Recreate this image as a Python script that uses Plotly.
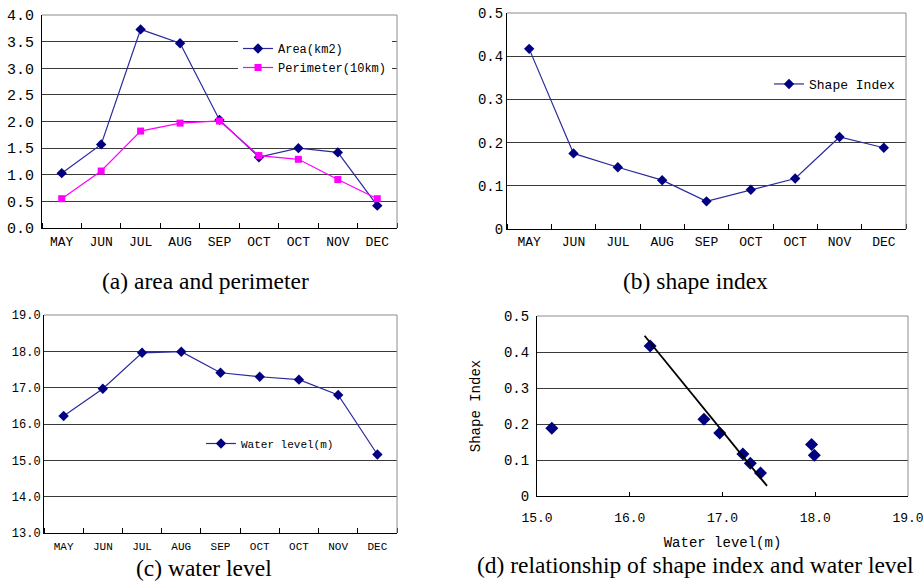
import plotly.graph_objects as go

# ---------------- data ----------------
months = ["MAY", "JUN", "JUL", "AUG", "SEP", "OCT", "OCT", "NOV", "DEC"]
area_km2 = [1.03, 1.57, 3.73, 3.47, 2.03, 1.33, 1.50, 1.42, 0.42]
perimeter_10km = [0.55, 1.07, 1.82, 1.97, 2.01, 1.36, 1.29, 0.91, 0.55]
shape_index = [0.417, 0.175, 0.143, 0.113, 0.064, 0.091, 0.117, 0.213, 0.188]
water_level = [16.22, 16.97, 17.96, 17.99, 17.41, 17.30, 17.22, 16.80, 15.16]
trend_x = [16.16, 17.48]
trend_y = [0.445, 0.028]

captions = ["(a) area and perimeter", "(b) shape index", "(c) water level",
            "(d) relationship of shape index and water level"]

W, H = 923, 581
NAVY = "#000080"
LINE_NAVY = "#2a2a9c"
MAG = "#ff00ff"
GRID = "#3a3a3a"
FRAME = "#8c8c8c"
MONO = "Liberation Mono"
SERIF = "Liberation Serif"

def px(x):
    return x / W

def py(y):
    return 1 - y / H

idx = list(range(len(months)))

fig = go.Figure()

# (a)
fig.add_trace(go.Scatter(x=idx, y=area_km2, name="Area(km2)", mode="lines+markers",
                         line=dict(color=LINE_NAVY, width=1.2),
                         marker=dict(symbol="diamond", size=8, color=NAVY),
                         xaxis="x", yaxis="y", legend="legend"))
fig.add_trace(go.Scatter(x=idx, y=perimeter_10km, name="Perimeter(10km)", mode="lines+markers",
                         line=dict(color=MAG, width=1.2),
                         marker=dict(symbol="square", size=7, color=MAG),
                         xaxis="x", yaxis="y", legend="legend"))
# (b)
fig.add_trace(go.Scatter(x=idx, y=shape_index, name="Shape Index", mode="lines+markers",
                         line=dict(color=LINE_NAVY, width=1.2),
                         marker=dict(symbol="diamond", size=8, color=NAVY),
                         xaxis="x2", yaxis="y2", legend="legend2"))
# (c)
fig.add_trace(go.Scatter(x=idx, y=water_level, name="Water level(m)", mode="lines+markers",
                         line=dict(color=LINE_NAVY, width=1.2),
                         marker=dict(symbol="diamond", size=8, color=NAVY),
                         xaxis="x3", yaxis="y3", legend="legend3"))
# (d)
fig.add_trace(go.Scatter(x=water_level, y=shape_index, mode="markers", showlegend=False,
                         marker=dict(symbol="diamond", size=10, color=NAVY),
                         xaxis="x4", yaxis="y4"))
fig.add_trace(go.Scatter(x=trend_x, y=trend_y, mode="lines", showlegend=False,
                         line=dict(color="black", width=1.8),
                         xaxis="x4", yaxis="y4"))

boundaries = [i - 0.5 for i in range(len(months) + 1)]

def cat_axis(domain, anchor, size, standoff=0):
    return dict(domain=domain, anchor=anchor, range=[-0.5, len(months) - 0.5],
                tickmode="array", tickvals=idx, ticktext=months, ticks="",
                showgrid=False, zeroline=False, showline=True, linecolor="black", linewidth=1,
                tickfont=dict(family=MONO, size=size, color="black"),
                ticklabeloverflow="allow", ticklabelstandoff=standoff,
                minor=dict(tickmode="array", tickvals=boundaries, ticks="inside",
                           ticklen=5, tickcolor="black", showgrid=False),
                fixedrange=True)

def val_axis(domain, anchor, rng, dtick, fmt, size, standoff=0):
    d = dict(domain=domain, anchor=anchor, range=rng, dtick=dtick, tick0=rng[0],
             showgrid=True, gridcolor=GRID, gridwidth=1, zeroline=False,
             showline=True, linecolor="black", linewidth=1, ticks="",
             ticklabeloverflow="allow", ticklabelstandoff=standoff,
             tickfont=dict(family=MONO, size=size, color="black"), fixedrange=True)
    if fmt:
        d["tickformat"] = fmt
    return d

dom = {
    "a": ([px(42), px(397)], [py(228), py(15)]),
    "b": ([px(507), px(906)], [py(229), py(13)]),
    "c": ([px(44), px(397)], [py(533), py(315)]),
    "d": ([px(537), px(908)], [py(496), py(316)]),
}

fig.update_layout(
    width=W, height=H, margin=dict(l=0, r=0, t=0, b=0, autoexpand=False),
    paper_bgcolor="white", plot_bgcolor="white",
    xaxis=cat_axis(dom["a"][0], "y", 13, 1),
    yaxis=val_axis(dom["a"][1], "x", [0, 4], 0.5, ".1f", 15, 4),
    xaxis2=cat_axis(dom["b"][0], "y2", 13),
    yaxis2=val_axis(dom["b"][1], "x2", [0, 0.5], 0.1, None, 14),
    xaxis3=cat_axis(dom["c"][0], "y3", 11, 3),
    yaxis3=val_axis(dom["c"][1], "x3", [13, 19], 1, ".1f", 12),
    xaxis4=dict(domain=dom["d"][0], anchor="y4", range=[15, 19], dtick=1, tick0=15,
                tickformat=".1f", showgrid=False, zeroline=False, showline=True,
                linecolor="black", ticks="inside", ticklen=4, tickcolor="black",
                fixedrange=True, ticklabeloverflow="allow", ticklabelstandoff=9,
                tickfont=dict(family=MONO, size=13, color="black"),
                title=dict(text="Water level(m)", standoff=12,
                           font=dict(family=MONO, size=14, color="black"))),
    yaxis4=val_axis(dom["d"][1], "x4", [0, 0.5], 0.1, None, 14, 4),
    legend=dict(x=px(238), y=py(34), xanchor="left", yanchor="top", bgcolor="white",
                borderwidth=0, font=dict(family=MONO, size=12, color="black"),
                tracegroupgap=0, itemwidth=30),
    legend2=dict(x=px(769), y=py(69), xanchor="left", yanchor="top", bgcolor="white",
                 borderwidth=0, font=dict(family=MONO, size=13, color="black")),
    legend3=dict(x=px(201), y=py(429), xanchor="left", yanchor="top", bgcolor="white",
                 borderwidth=0, font=dict(family=MONO, size=11, color="black")),
    showlegend=True,
)
fig.layout.yaxis4.title = dict(text="Shape Index", standoff=20,
                               font=dict(family=MONO, size=14, color="black"))

# gray top/right frame
for xa, ya in [("x", "y"), ("x2", "y2"), ("x3", "y3"), ("x4", "y4")]:
    fig.add_shape(type="line", xref=f"{xa} domain", yref=f"{ya} domain",
                  x0=0, x1=1, y0=1, y1=1, line=dict(color=FRAME, width=1), layer="above")
    fig.add_shape(type="line", xref=f"{xa} domain", yref=f"{ya} domain",
                  x0=1, x1=1, y0=0, y1=1, line=dict(color=FRAME, width=1), layer="above")

# captions
cap_pos = [(205, 281, 23.5), (695, 281, 23.5), (204, 568, 23.5), (695, 565, 23.5)]
for text, (cx, cy, fs) in zip(captions, cap_pos):
    fig.add_annotation(text=text, x=px(cx), y=py(cy), xref="paper", yref="paper",
                       xanchor="center", yanchor="middle", showarrow=False,
                       font=dict(family=SERIF, size=fs, color="black"))

fig.write_html("out.html", config={"displayModeBar": False},
               post_script="document.body.style.margin='0';document.body.style.overflow='hidden';")
